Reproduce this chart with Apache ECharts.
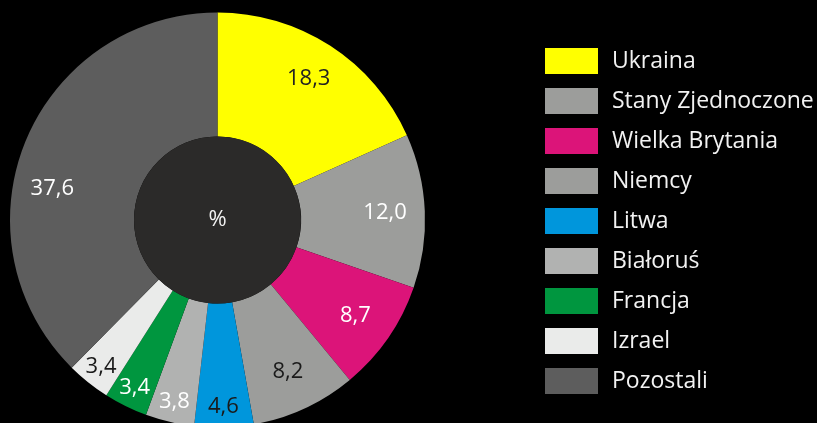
<!DOCTYPE html>
<html>
<head>
    <meta charset="utf-8">
    <title>Udział procentowy</title>
    <script src="https://cdn.jsdelivr.net/npm/echarts@6/dist/echarts.min.js"></script>
    <style type="text/css">
        html, body{
            margin: 0;
            padding: 0;
            background-color: #000;
        }
        #chart{
            width: 817px;
            height: 423px;
        }
    </style>
</head>
<body>
<div id="chart"></div>

<script>
    var names = ['Ukraina', 'Stany Zjednoczone', 'Wielka Brytania', 'Niemcy', 'Litwa', 'Białoruś', 'Francja', 'Izrael', 'Pozostali'];
    var values = [18.3, 12.0, 8.7, 8.2, 4.6, 3.8, 3.4, 3.4, 37.6];
    var colors = ['#ffff00', '#9c9d9b', '#dc1479', '#9c9d9b', '#0096dc', '#b1b2b1', '#00963f', '#eaebea', '#5d5d5d'];
    var labelColors = ['#222', '#fff', '#fff', '#1a1a1a', '#1a1a1a', '#fff', '#fff', '#1a1a1a', '#fff'];

    var fontName = '"Open Sans", sans-serif';
    var fmt = function (v) {
        return v.toFixed(1).replace('.', ',');
    };

    var center = [217.5, 220];

    // slices only
    var pieData = names.map(function (n, i) {
        return {name: n, value: values[i], itemStyle: {color: colors[i]}};
    });

    // label rings: bigger slices a bit further in, thin ones pushed out
    function labelData(big) {
        return names.map(function (n, i) {
            var isBig = values[i] >= 5;
            var lab = {show: isBig === big, color: labelColors[i]};
            if (n == 'Pozostali') lab.offset = [-10, 32]; // label sits lower than mid angle
            return {name: n, value: values[i], label: lab};
        });
    }

    var labelStyle = {
        position: 'inside',
        fontFamily: fontName,
        fontSize: 22,
        textBorderWidth: 0,
        formatter: function (p) { return fmt(p.value); }
    };

    var chart = echarts.init(document.getElementById('chart'));
    var option = {
        backgroundColor: '#000',
        animation: false,
        legend: {
            orient: 'vertical',
            left: 545,
            top: 48,
            padding: 0,
            itemWidth: 53,
            itemHeight: 26,
            itemGap: 14,
            icon: 'rect',
            selectedMode: false,
            data: names,
            textStyle: {
                color: '#f2f2f2',
                fontFamily: fontName,
                fontSize: 23,
                lineHeight: 26,
                padding: [0, 0, 0, 9]
            }
        },
        series: [
            {
                type: 'pie',
                center: center,
                radius: [83.5, 207.5],
                startAngle: 90,
                clockwise: true,
                silent: true,
                label: {show: false},
                labelLine: {show: false},
                emphasis: {disabled: true},
                data: pieData
            },
            {
                type: 'pie',
                center: center,
                radius: [122, 207.5],
                silent: true,
                itemStyle: {color: 'rgba(0,0,0,0)'},
                label: labelStyle,
                labelLine: {show: false},
                emphasis: {disabled: true},
                data: labelData(true)
            },
            {
                type: 'pie',
                center: center,
                radius: [160, 208],
                silent: true,
                itemStyle: {color: 'rgba(0,0,0,0)'},
                label: labelStyle,
                labelLine: {show: false},
                emphasis: {disabled: true},
                data: labelData(false)
            },
            {
                type: 'pie',
                center: center,
                radius: [0, 83.5],
                silent: true,
                itemStyle: {color: '#2b2a29'},
                label: {
                    show: true,
                    position: 'center',
                    formatter: '%',
                    color: '#f2f2f2',
                    fontFamily: fontName,
                    fontSize: 22
                },
                labelLine: {show: false},
                emphasis: {disabled: true},
                data: [{name: '%', value: 1}]
            }
        ]
    };
    chart.setOption(option);
</script>
</body>
</html>
